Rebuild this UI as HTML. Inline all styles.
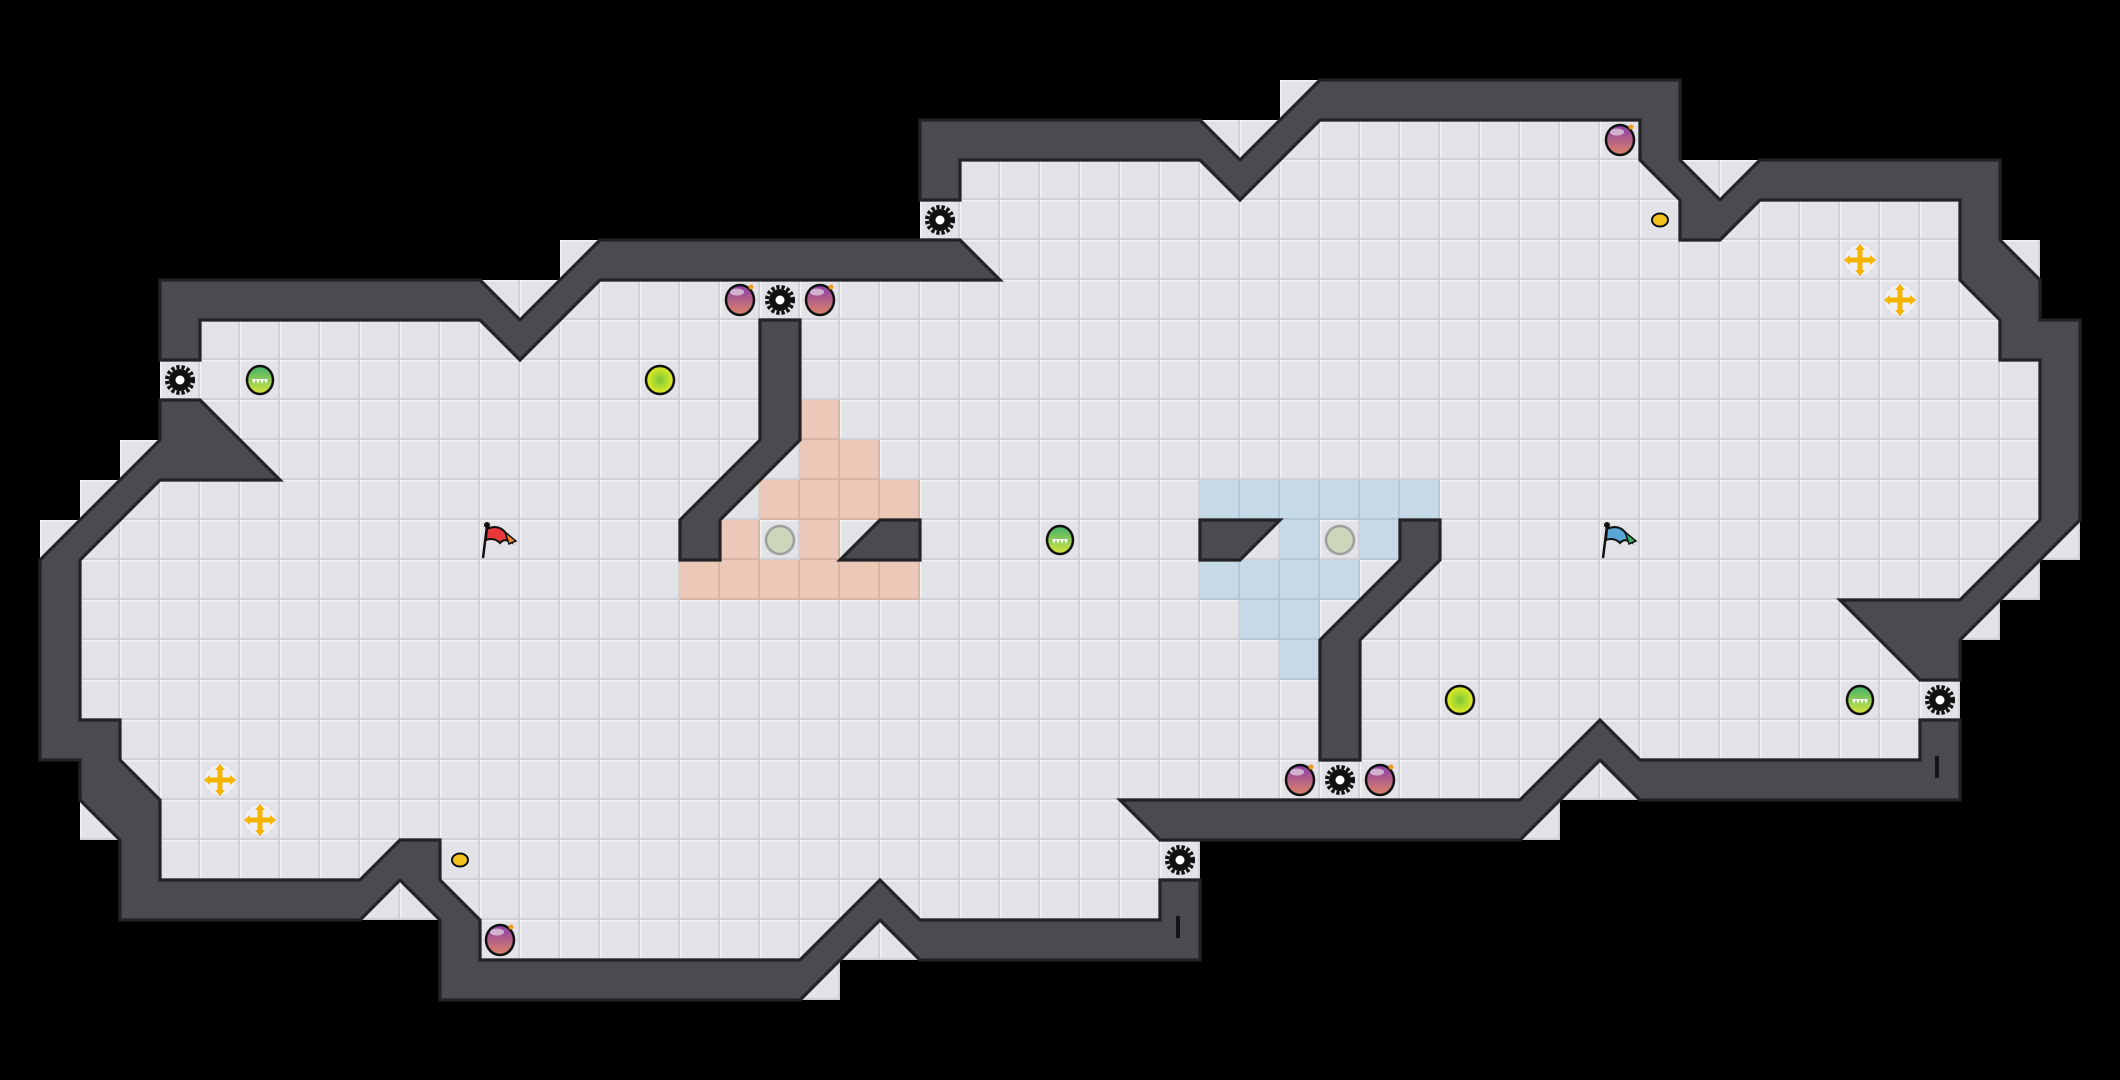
<!DOCTYPE html>
<html><head><meta charset="utf-8"><style>
html,body{margin:0;padding:0;background:#000;}
svg{display:block;}
</style></head><body>
<svg width="2120" height="1080" viewBox="0 0 2120 1080" xmlns="http://www.w3.org/2000/svg">
<defs>
<pattern id="g" width="40" height="40" patternUnits="userSpaceOnUse">
<rect width="40" height="40" fill="#e3e3e7"/><rect x="0" y="0" width="40" height="1.5" fill="#f1f1f4"/><rect x="0" y="0" width="1.5" height="40" fill="#f1f1f4"/><rect x="38" width="2" height="40" fill="#d0d0d6"/><rect y="38" width="40" height="2" fill="#d0d0d6"/>
</pattern>
<pattern id="r" width="40" height="40" patternUnits="userSpaceOnUse">
<rect width="40" height="40" fill="#ebc8b8"/><rect x="38" width="2" height="40" fill="#dbb5a4"/><rect y="38" width="40" height="2" fill="#dbb5a4"/>
</pattern>
<pattern id="b" width="40" height="40" patternUnits="userSpaceOnUse">
<rect width="40" height="40" fill="#c6d9e7"/><rect x="38" width="2" height="40" fill="#b3c7d7"/><rect y="38" width="40" height="2" fill="#b3c7d7"/>
</pattern>
<linearGradient id="bomb" x1="0" y1="0" x2="0" y2="1"><stop offset="0" stop-color="#8a3fa6"/><stop offset="1" stop-color="#dc8468"/></linearGradient>
<linearGradient id="cap" x1="0" y1="0" x2="0" y2="1"><stop offset="0" stop-color="#3fb36a"/><stop offset="1" stop-color="#d8e43a"/></linearGradient>
<radialGradient id="yb"><stop offset="0" stop-color="#7cc83a"/><stop offset="1" stop-color="#e4ec22"/></radialGradient>
<g id="bm"><ellipse rx="14" ry="15" fill="url(#bomb)" stroke="#111" stroke-width="2.5"/><ellipse cx="-3" cy="-8" rx="7" ry="3.5" fill="#fff" opacity=".55"/><circle cx="11" cy="-13" r="2.5" fill="#f39a1a"/></g>
<g id="gr"><circle r="11" fill="#111"/><circle r="13" fill="none" stroke="#111" stroke-width="4" stroke-dasharray="3.2 2"/><circle r="4.5" fill="#fff"/></g>
<g id="cp"><ellipse rx="13" ry="14" fill="url(#cap)" stroke="#111" stroke-width="2.5"/><path d="M-8,-1 L8,-1 L6,4 L4,-1 L2,4 L0,-1 L-2,4 L-4,-1 L-6,4 Z" fill="#fff"/></g>
<g id="yl"><circle r="14" fill="url(#yb)" stroke="#111" stroke-width="2.5"/></g>
<g id="gy"><circle r="14" fill="#cbd6bb" stroke="#a0a0a0" stroke-width="2.5"/></g>
<g id="gc"><circle r="15" fill="#fff" opacity=".45"/><rect x="-2.5" y="-11" width="5" height="22" fill="#f5b400"/><rect x="-11" y="-2.5" width="22" height="5" fill="#f5b400"/><polygon points="0,-16 -5,-10 5,-10" fill="#f5b400"/><polygon points="0,16 -5,10 5,10" fill="#f5b400"/><polygon points="-16,0 -10,-5 -10,5" fill="#f5b400"/><polygon points="16,0 10,-5 10,5" fill="#f5b400"/></g>
<g id="cn"><ellipse rx="8" ry="6.5" fill="#f4c21c" stroke="#111" stroke-width="2"/></g>
</defs>
<rect width="2120" height="1080" fill="#000"/>
<g fill="url(#g)">
<rect x="1280" y="80" width="400" height="40"/>
<rect x="920" y="120" width="760" height="40"/>
<rect x="920" y="160" width="1080" height="80"/>
<rect x="560" y="240" width="1480" height="40"/>
<rect x="160" y="280" width="1880" height="40"/>
<rect x="160" y="320" width="1920" height="120"/>
<rect x="120" y="440" width="1960" height="40"/>
<rect x="80" y="480" width="2000" height="40"/>
<rect x="40" y="520" width="2040" height="40"/>
<rect x="40" y="560" width="2000" height="40"/>
<rect x="40" y="600" width="1960" height="40"/>
<rect x="40" y="640" width="1920" height="120"/>
<rect x="80" y="760" width="1880" height="40"/>
<rect x="80" y="800" width="1480" height="40"/>
<rect x="120" y="840" width="1080" height="80"/>
<rect x="440" y="920" width="760" height="40"/>
<rect x="440" y="960" width="400" height="40"/>
</g>
<g fill="url(#r)">
<rect x="800" y="400" width="40" height="40"/>
<rect x="800" y="440" width="80" height="40"/>
<rect x="760" y="480" width="160" height="40"/>
<rect x="720" y="520" width="40" height="40"/>
<rect x="800" y="520" width="40" height="40"/>
<rect x="680" y="560" width="240" height="40"/>
</g>
<g fill="url(#b)">
<rect x="1200" y="480" width="240" height="40"/>
<rect x="1280" y="520" width="40" height="40"/>
<rect x="1360" y="520" width="40" height="40"/>
<rect x="1200" y="560" width="160" height="40"/>
<rect x="1240" y="600" width="80" height="40"/>
<rect x="1280" y="640" width="40" height="40"/>
</g>
<g transform="scale(40)" fill="#4a4a4f" stroke="#232326" stroke-width="0.08" stroke-linejoin="miter">
<polygon points="4,7 12,7 13,8 15,6 24,6 25,7 15,7 13,9 12,8 5,8 5,9 4,9"/>
<polygon points="4,10 5,10 7,12 4,12 2,14 2,18 3,18 3,19 4,20 4,22 9,22 10,21 11,21 11,22 12,23 12,24 20,24 22,22 23,23 29,23 29,22 30,22 30,24 23,24 22,23 20,25 11,25 11,23 10,22 9,23 3,23 3,21 2,20 2,19 1,19 1,14 4,11"/>
<polygon points="23,5 23,3 30,3 31,4 33,2 42,2 42,4 43,5 44,4 50,4 50,6 51,7 51,8 52,8 52,13 49,16 49,17 48,17 46,15 49,15 51,13 51,9 50,9 50,8 49,7 49,5 44,5 43,6 42,6 42,5 41,4 41,3 33,3 31,5 30,4 24,4 24,5"/>
<polygon points="49,18 49,20 41,20 40,19 39,20 38,21 29,21 28,20 38,20 40,18 41,19 48,19 48,18"/>
<polygon points="19,8 20,8 20,11 18,13 18,14 17,14 17,13 19,11"/>
<polygon points="21,14 22,13 23,13 23,14"/>
<polygon points="30,13 32,13 31,14 30,14"/>
<polygon points="35,13 36,13 36,14 34,16 34,19 33,19 33,16 35,14"/>
</g>
<rect x="1176" y="916" width="4" height="22" fill="#151517"/>
<rect x="1935" y="756" width="4" height="22" fill="#151517"/>
<use href="#bm" x="740" y="300"/><use href="#bm" x="820" y="300"/><use href="#bm" x="1620" y="140"/>
<use href="#bm" x="1300" y="780"/><use href="#bm" x="1380" y="780"/><use href="#bm" x="500" y="940"/>
<use href="#gr" x="180" y="380"/><use href="#gr" x="780" y="300"/><use href="#gr" x="940" y="220"/>
<use href="#gr" x="1940" y="700"/><use href="#gr" x="1340" y="780"/><use href="#gr" x="1180" y="860"/>
<use href="#cp" x="260" y="380"/><use href="#cp" x="1060" y="540"/><use href="#cp" x="1860" y="700"/>
<use href="#yl" x="660" y="380"/><use href="#yl" x="1460" y="700"/>
<use href="#gy" x="780" y="540"/><use href="#gy" x="1340" y="540"/>
<use href="#gc" x="1860" y="260"/><use href="#gc" x="1900" y="300"/><use href="#gc" x="220" y="780"/><use href="#gc" x="260" y="820"/>
<use href="#cn" x="1660" y="220"/><use href="#cn" x="460" y="860"/>
<g transform="translate(500,540)">
<line x1="-17" y1="18" x2="-13" y2="-14" stroke="#111" stroke-width="2.5"/><circle cx="-13" cy="-15" r="3" fill="#111"/>
<path d="M-13,-11 Q-2,-16 5,-8 L11,2 Q4,-2 0,3 Q-6,-3 -14,0 Z" fill="#e8383a" stroke="#111" stroke-width="2"/>
<path d="M5,-8 L16,1 L9,4 Z" fill="#f08a2a" stroke="#111" stroke-width="1.5"/>
</g>
<g transform="translate(1620,540)">
<line x1="-17" y1="18" x2="-13" y2="-14" stroke="#111" stroke-width="2.5"/><circle cx="-13" cy="-15" r="3" fill="#111"/>
<path d="M-13,-11 Q-2,-16 5,-8 L11,2 Q4,-2 0,3 Q-6,-3 -14,0 Z" fill="#5aa6d6" stroke="#111" stroke-width="2"/>
<path d="M5,-8 L16,1 L9,4 Z" fill="#3cae6a" stroke="#111" stroke-width="1.5"/>
</g>
</svg>
</body></html>
